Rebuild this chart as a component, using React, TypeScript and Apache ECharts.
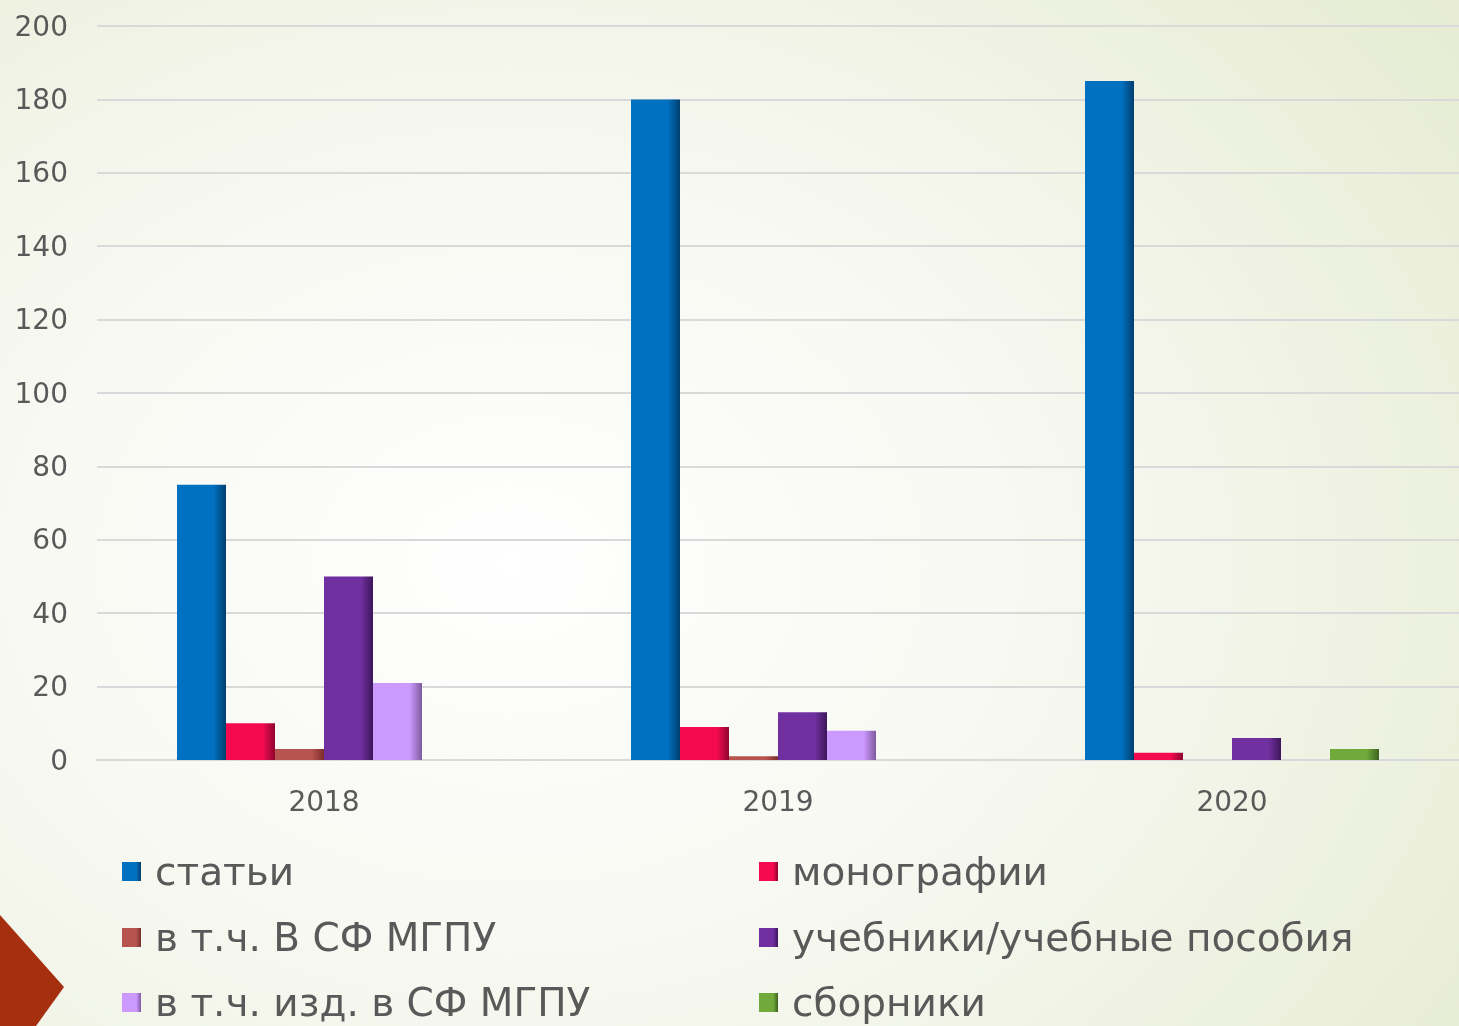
import React, { useEffect, useRef } from "react";
import * as echarts from "echarts";

const categories = ["2018", "2019", "2020"];
const seriesNames = [
  "статьи",
  "монографии",
  "в т.ч. В СФ МГПУ",
  "учебники/учебные пособия",
  "в т.ч. изд. в СФ МГПУ",
  "сборники",
];
const articles = [75, 180, 185];
const monographs = [10, 9, 2];
const monoInSF = [3, 1, 0];
const textbooks = [50, 13, 6];
const textbooksInSF = [21, 8, 0];
const collections = [0, 0, 3];
const yTicks = [0, 200, 20];

const colors = ["#0070C0", "#F50A50", "#B85450", "#7030A0", "#CC99FF", "#6FAA3A"];
const darks = ["#003F6E", "#8E0530", "#7A2D2A", "#3D1659", "#7E5A9E", "#3D6220"];

export default function App() {
  const ref = useRef<HTMLDivElement>(null);
  useEffect(() => {
    if (!ref.current) return;
    const chart = echarts.init(ref.current, undefined, { renderer: "svg" });
    const values = [articles, monographs, monoInSF, textbooks, textbooksInSF, collections];
    const font = "DejaVu Sans";
    const series = seriesNames.map((name, i) => ({
      name,
      type: "bar",
      data: values[i],
      barWidth: 49,
      barGap: "0%",
      itemStyle: {
        color: {
          type: "linear",
          x: 0,
          y: 0,
          x2: 1,
          y2: 0,
          colorStops: [
            { offset: 0, color: colors[i] },
            { offset: 0.75, color: colors[i] },
            { offset: 1, color: darks[i] },
          ],
        },
      },
    }));
    const rowTops = [852, 918, 983];
    const colLefts = [122, 759];
    const legends = seriesNames.map((name, i) => ({
      orient: "horizontal",
      icon: "rect",
      itemWidth: 19,
      itemHeight: 19,
      padding: 0,
      left: colLefts[i % 2],
      top: rowTops[Math.floor(i / 2)],
      data: [name],
      textStyle: {
        fontFamily: font,
        fontSize: 39,
        color: "#595959",
        padding: [0, 0, 0, 9],
      },
    }));
    chart.setOption({
      animation: false,
      textStyle: { fontFamily: font },
      grid: { left: 97, top: 26, width: 1366, height: 734 },
      legend: legends,
      xAxis: {
        type: "category",
        data: categories,
        axisTick: { show: false },
        axisLine: { lineStyle: { color: "#D9D9D9", width: 2 } },
        axisLabel: { fontSize: 28, color: "#595959", margin: 27, fontFamily: font },
      },
      yAxis: {
        type: "value",
        min: yTicks[0],
        max: yTicks[1],
        interval: yTicks[2],
        axisLine: { show: false },
        axisTick: { show: false },
        splitLine: { lineStyle: { color: "#D9D9D9", width: 2 } },
        axisLabel: { fontSize: 28, color: "#595959", margin: 29, fontFamily: font },
      },
      graphic: [
        {
          type: "polygon",
          shape: { points: [[0, 915], [64, 987], [36, 1026], [0, 1026]] },
          style: { fill: "#A52F0E" },
        },
      ],
      series,
    });
    return () => chart.dispose();
  }, []);
  return (
    <div
      ref={ref}
      style={{
        position: "fixed",
        left: 0,
        top: 0,
        width: 1459,
        height: 1026,
        background:
          "radial-gradient(ellipse 110% 120% at 35% 55%, #ffffff 0%, #f6f8f0 35%, #e8edd6 70%, #dce4bf 100%)",
      }}
    />
  );
}
